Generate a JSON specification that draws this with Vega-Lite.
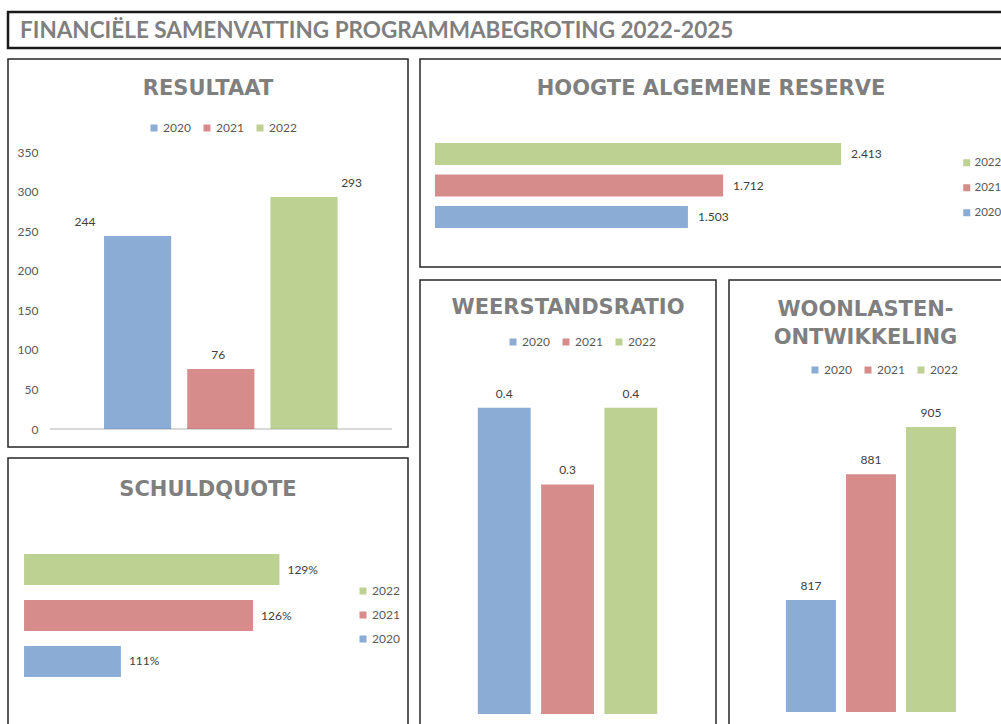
{
  "$schema": "https://vega.github.io/schema/vega-lite/v6.json",
  "padding": {"left": 6, "top": 10, "right": 0, "bottom": 0},
  "background": "white",
  "datasets": {
    "resultaat": [{"jaar": "2020", "waarde": 244}, {"jaar": "2021", "waarde": 76}, {"jaar": "2022", "waarde": 293}],
    "reserve": [{"jaar": "2020", "waarde": 1503}, {"jaar": "2021", "waarde": 1712}, {"jaar": "2022", "waarde": 2413}],
    "schuld": [{"jaar": "2020", "waarde": 1.11}, {"jaar": "2021", "waarde": 1.26}, {"jaar": "2022", "waarde": 1.29}],
    "ratio": [{"jaar": "2020", "waarde": 0.4}, {"jaar": "2021", "waarde": 0.3}, {"jaar": "2022", "waarde": 0.4}],
    "woonlasten": [{"jaar": "2020", "waarde": 817}, {"jaar": "2021", "waarde": 881}, {"jaar": "2022", "waarde": 905}]
  },
  "config": {
    "view": {"stroke": "#262626", "strokeWidth": 1.5},
    "font": "Lato",
    "title": {"font": "DejaVu Sans", "fontSize": 21, "fontWeight": "bold", "color": "#7f7f7f", "anchor": "middle", "frame": "group"},
    "legend": {"orient": "none", "title": null, "symbolType": "square", "symbolSize": 49, "symbolStrokeWidth": 0, "symbolOpacity": 1, "labelFont": "Lato", "labelFontSize": 12, "labelColor": "#595959", "labelOffset": 3, "columnPadding": 10, "padding": 0},
    "bar": {"fillOpacity": 0.66},
    "text": {"font": "Lato", "fontSize": 12, "color": "#404040"}
  },
  "spacing": 8,
  "resolve": {"scale": {"color": "independent"}, "legend": {"color": "independent"}},
  "vconcat": [
    {
      "width": 995,
      "height": 36,
      "view": {"stroke": "#1a1a1a", "strokeWidth": 2.5},
      "title": {"text": "FINANCIËLE SAMENVATTING PROGRAMMABEGROTING 2022-2025", "font": "Lato", "fontSize": 22.5, "fontWeight": "bold", "color": "#7f7f7f", "anchor": "start", "frame": "group", "dx": 12, "offset": -30},
      "data": {"values": [{"a": 1}]},
      "mark": {"type": "text"},
      "encoding": {"text": {"value": ""}}
    },
    {
      "spacing": 10,
      "resolve": {"scale": {"color": "independent"}, "legend": {"color": "independent"}},
      "hconcat": [
        {
          "spacing": 9,
          "resolve": {"scale": {"color": "independent"}, "legend": {"color": "independent"}},
          "vconcat": [
            {
              "width": 400,
              "height": 388,
              "title": {"text": "RESULTAAT", "offset": -40},
              "data": {"name": "resultaat"},
              "resolve": {"scale": {"x": "independent"}},
              "layer": [
                {
                  "mark": {"type": "rule", "color": "#d9d9d9", "strokeWidth": 1.5},
                  "encoding": {
                    "y": {"datum": 0, "type": "quantitative", "scale": {"domain": [-22.7, 467.5], "nice": false, "zero": false}},
                    "x": {"datum": 0, "type": "quantitative", "scale": {"domain": [-0.1228, 1.0468], "nice": false, "zero": false}, "axis": null},
                    "x2": {"datum": 1}
                  }
                },
                {
                  "mark": {"type": "bar"},
                  "encoding": {
                    "x": {"field": "jaar", "type": "nominal", "scale": {"paddingInner": 0.193, "paddingOuter": 1.0, "align": 0.577}, "axis": null},
                    "y": {"field": "waarde", "type": "quantitative", "scale": {"domain": [-22.7, 467.5], "nice": false, "zero": false},
                          "axis": {"values": [0, 50, 100, 150, 200, 250, 300, 350], "offset": -32, "domain": false, "ticks": false, "grid": false, "labelPadding": 2, "labelFont": "Lato", "labelFontSize": 12, "labelColor": "#595959", "title": null}},
                    "y2": {"datum": 0},
                    "color": {"field": "jaar", "type": "nominal", "scale": {"domain": ["2020", "2021", "2022"], "range": ["#4f81bd", "#c0504d", "#9bbb59"]},
                              "legend": {"direction": "horizontal", "legendX": 140, "legendY": 63}}
                  }
                },
                {
                  "mark": {"type": "text", "baseline": "bottom", "dy": -7},
                  "encoding": {
                    "x": {"field": "jaar", "type": "nominal", "scale": {"paddingInner": 0.193, "paddingOuter": 1.0, "align": 0.577}, "axis": null},
                    "y": {"field": "waarde", "type": "quantitative"},
                    "text": {"field": "waarde", "type": "quantitative"}
                  }
                }
              ]
            },
            {
              "width": 400,
              "height": 272,
              "title": {"text": "SCHULDQUOTE", "offset": -42},
              "data": {"name": "schuld"},
              "layer": [
                {
                  "mark": {"type": "bar"},
                  "encoding": {
                    "y": {"field": "jaar", "type": "nominal", "scale": {"domain": ["2022", "2021", "2020"], "range": [96, 219], "paddingInner": 0.326, "paddingOuter": 0}, "axis": null},
                    "x": {"field": "waarde", "type": "quantitative", "scale": {"domain": [0.9818, 1.436], "nice": false, "zero": false}, "axis": null},
                    "x2": {"datum": 1.0},
                    "color": {"field": "jaar", "type": "nominal", "scale": {"domain": ["2022", "2021", "2020"], "range": ["#9bbb59", "#c0504d", "#4f81bd"]},
                              "legend": {"direction": "vertical", "legendX": 349, "legendY": 127, "rowPadding": 12}}
                  }
                },
                {
                  "mark": {"type": "text", "align": "left", "baseline": "middle", "dx": 8},
                  "encoding": {
                    "y": {"field": "jaar", "type": "nominal", "scale": {"domain": ["2022", "2021", "2020"], "range": [96, 219], "paddingInner": 0.326, "paddingOuter": 0}, "axis": null},
                    "x": {"field": "waarde", "type": "quantitative"},
                    "text": {"field": "waarde", "type": "quantitative", "format": ".0%"}
                  }
                }
              ]
            }
          ]
        },
        {
          "spacing": 11,
          "resolve": {"scale": {"color": "independent"}, "legend": {"color": "independent"}},
          "vconcat": [
            {
              "width": 582,
              "height": 208,
              "title": {"text": "HOOGTE ALGEMENE RESERVE", "offset": -40},
              "data": {"name": "reserve"},
              "layer": [
                {
                  "mark": {"type": "bar"},
                  "encoding": {
                    "y": {"field": "jaar", "type": "nominal", "scale": {"domain": ["2022", "2021", "2020"], "range": [84, 169], "paddingInner": 0.30, "paddingOuter": 0}, "axis": null},
                    "x": {"field": "waarde", "type": "quantitative", "scale": {"domain": [-89, 3369], "nice": false, "zero": false}, "axis": null},
                    "x2": {"datum": 0},
                    "color": {"field": "jaar", "type": "nominal", "scale": {"domain": ["2022", "2021", "2020"], "range": ["#9bbb59", "#c0504d", "#4f81bd"]},
                              "legend": {"direction": "vertical", "legendX": 541, "legendY": 98, "rowPadding": 12, "labelOffset": 2, "labelFontSize": 11.5}}
                  }
                },
                {
                  "mark": {"type": "text", "align": "left", "baseline": "middle", "dx": 10},
                  "encoding": {
                    "y": {"field": "jaar", "type": "nominal", "scale": {"domain": ["2022", "2021", "2020"], "range": [84, 169], "paddingInner": 0.30, "paddingOuter": 0}, "axis": null},
                    "x": {"field": "waarde", "type": "quantitative"},
                    "text": {"value": {"expr": "replace(format(datum.waarde, ','), ',', '.')"}}
                  }
                }
              ]
            },
            {
              "spacing": 11,
              "resolve": {"scale": {"color": "independent"}, "legend": {"color": "independent"}},
              "hconcat": [
                {
                  "width": 296,
                  "height": 452,
                  "title": {"text": "WEERSTANDSRATIO", "offset": -38},
                  "data": {"name": "ratio"},
                  "layer": [
                    {
                      "mark": {"type": "bar"},
                      "encoding": {
                        "x": {"field": "jaar", "type": "nominal", "scale": {"paddingInner": 0.165, "paddingOuter": 0.921, "align": 0.496}, "axis": null},
                        "y": {"field": "waarde", "type": "quantitative", "scale": {"domain": [-0.0235, 0.567], "nice": false, "zero": false}, "axis": null},
                        "y2": {"datum": 0},
                        "color": {"field": "jaar", "type": "nominal", "scale": {"domain": ["2020", "2021", "2022"], "range": ["#4f81bd", "#c0504d", "#9bbb59"]},
                                  "legend": {"direction": "horizontal", "legendX": 87, "legendY": 56}}
                      }
                    },
                    {
                      "mark": {"type": "text", "baseline": "bottom", "dy": -7},
                      "encoding": {
                        "x": {"field": "jaar", "type": "nominal", "scale": {"paddingInner": 0.165, "paddingOuter": 0.921, "align": 0.496}, "axis": null},
                        "y": {"field": "waarde", "type": "quantitative"},
                        "text": {"field": "waarde", "type": "quantitative", "format": ".1f"}
                      }
                    }
                  ]
                },
                {
                  "width": 273,
                  "height": 452,
                  "title": {"text": ["WOONLASTEN-", "ONTWIKKELING"], "offset": -68, "lineHeight": 28},
                  "data": {"name": "woonlasten"},
                  "layer": [
                    {
                      "mark": {"type": "bar"},
                      "encoding": {
                        "x": {"field": "jaar", "type": "nominal", "scale": {"paddingInner": 0.167, "paddingOuter": 0.858, "align": 0.553}, "axis": null},
                        "y": {"field": "waarde", "type": "quantitative", "scale": {"domain": [749.8, 979.8], "nice": false, "zero": false}, "axis": null},
                        "y2": {"datum": 760},
                        "color": {"field": "jaar", "type": "nominal", "scale": {"domain": ["2020", "2021", "2022"], "range": ["#4f81bd", "#c0504d", "#9bbb59"]},
                                  "legend": {"direction": "horizontal", "legendX": 80, "legendY": 84}}
                      }
                    },
                    {
                      "mark": {"type": "text", "baseline": "bottom", "dy": -7},
                      "encoding": {
                        "x": {"field": "jaar", "type": "nominal", "scale": {"paddingInner": 0.167, "paddingOuter": 0.858, "align": 0.553}, "axis": null},
                        "y": {"field": "waarde", "type": "quantitative"},
                        "text": {"field": "waarde", "type": "quantitative"}
                      }
                    }
                  ]
                }
              ]
            }
          ]
        }
      ]
    }
  ]
}
